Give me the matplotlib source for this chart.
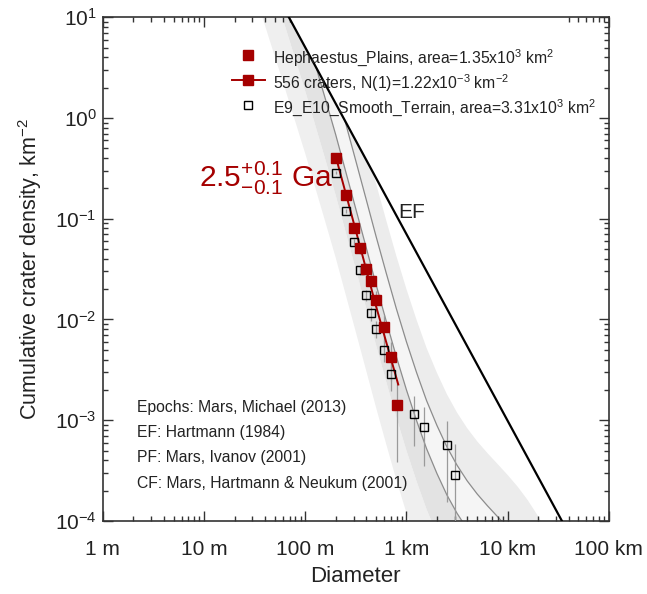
import numpy as np
import matplotlib
matplotlib.use("Agg")
import matplotlib.pyplot as plt
from matplotlib.lines import Line2D
from matplotlib.ticker import FixedLocator, FixedFormatter, LogLocator, NullFormatter

plt.rcParams['font.family'] = ['Liberation Sans', 'DejaVu Sans']
plt.rcParams['mathtext.fontset'] = 'custom'
plt.rcParams['mathtext.rm'] = 'Liberation Sans'
plt.rcParams['mathtext.it'] = 'Liberation Sans:italic'
plt.rcParams['mathtext.bf'] = 'Liberation Sans:bold'

RED = '#a50000'
TXT = '#222222'

# Hephaestus Plains cumulative counts (D in km, N in km^-2)
heph_d = [0.2, 0.25, 0.3, 0.35, 0.4, 0.45, 0.5, 0.6, 0.7, 0.8]
heph_n = [0.40, 0.170, 0.0807, 0.0511, 0.0314, 0.0242, 0.0156, 0.00847, 0.00424, 0.00141]
heph_area = 1.35e3

# E9_E10 smooth terrain
smooth_d = [0.2, 0.25, 0.3, 0.35, 0.4, 0.45, 0.5, 0.6, 0.7, 1.2, 1.5, 2.5, 3.0]
smooth_n = [0.285, 0.119, 0.0586, 0.0309, 0.0175, 0.0115, 0.00803, 0.00497, 0.00287,
            0.00114, 0.000857, 0.000571, 0.000286]
smooth_area = 3.31e3

# 2.5 Ga isochron fitted to the red data
fit_d = [0.2, 0.316, 0.5, 0.83]
fit_n = [0.416, 0.0762, 0.0136, 0.00226]

# equilibrium function (Hartmann 1984)
ef_d = [0.0689, 34.4]
ef_n = [10.0, 1e-4]

# production function shape, N(D) / N(1)
pf_d = [0.0316, 0.05, 0.0631, 0.1, 0.158, 0.2, 0.251, 0.316, 0.398, 0.5, 0.631, 0.794,
        1.0, 1.26, 1.58, 2.0, 2.51, 3.16, 3.98, 5.01, 6.31, 7.94, 10.0, 12.6, 15.8,
        20.0, 25.1, 31.6]
pf_rel = [145500, 34040, 16330, 3690, 773, 341, 147, 62.5, 26.4, 11.2, 4.82, 2.14,
          1.0, 0.494, 0.261, 0.148, 0.0906, 0.0596, 0.0417, 0.0308, 0.0236, 0.0184,
          0.0143, 0.0109, 0.00804, 0.00558, 0.00366, 0.00226]

# epoch boundaries as N(1) values, and the grey isochron lines
epoch_n1 = [1.2e-4, 5.0e-4, 2.0e-3, 6.0e-3, 2.0e-2]
epoch_shades = ['#efefef', '#e3e3e3', '#f5f5f5', '#ececec']
iso_n1 = [2.0e-3, 6.0e-3]

x_ticks = [1e-3, 1e-2, 1e-1, 1, 10, 100]
x_labels = ['1 m', '10 m', '100 m', '1 km', '10 km', '100 km']

legend_labels = [
    'Hephaestus_Plains, area=1.35x10$^{3}$ km$^{2}$',
    '556 craters, N(1)=1.22x10$^{-3}$ km$^{-2}$',
    'E9_E10_Smooth_Terrain, area=3.31x10$^{3}$ km$^{2}$',
]
notes = [
    'Epochs: Mars, Michael (2013)',
    'EF: Hartmann (1984)',
    'PF: Mars, Ivanov (2001)',
    'CF: Mars, Hartmann & Neukum (2001)',
]


def poisson_err(n, area):
    n = np.asarray(n)
    err = np.sqrt(n * area) / area
    lo = np.minimum(err, n * 0.9999)
    return [lo, err]


fig, ax = plt.subplots(figsize=(6.47, 5.94), dpi=100)
fig.subplots_adjust(left=0.159, right=0.941, bottom=0.123, top=0.971)
ax.set_xscale('log')
ax.set_yscale('log')
ax.set_xlim(1e-3, 1e2)
ax.set_ylim(1e-4, 1e1)

# epoch bands and isochrons
pf_d_arr = np.array(pf_d)
pf_rel_arr = np.array(pf_rel)
for lo_n1, hi_n1, shade in zip(epoch_n1[:-1], epoch_n1[1:], epoch_shades):
    ax.fill_between(pf_d_arr, lo_n1 * pf_rel_arr, hi_n1 * pf_rel_arr, color=shade, lw=0, zorder=1)
for n1 in iso_n1:
    ax.plot(pf_d_arr, n1 * pf_rel_arr, color='#8c8c8c', lw=0.9, zorder=1.5)

# nothing above saturation
ax.fill_between(ef_d, ef_n, 1e3, color='white', lw=0, zorder=2)
ax.plot(ef_d, ef_n, color='black', lw=1.6, zorder=3)
ax.text(1.13, 0.116, 'EF', fontsize=15, color=TXT, ha='center', va='center', zorder=3)

# data
ax.errorbar(smooth_d, smooth_n, yerr=poisson_err(smooth_n, smooth_area), fmt='none',
            ecolor='#9a9a9a', elinewidth=0.9, zorder=4)
ax.errorbar(heph_d, heph_n, yerr=poisson_err(heph_n, heph_area), fmt='none',
            ecolor='#9a9a9a', elinewidth=0.9, zorder=4)
ax.plot(fit_d, fit_n, color=RED, lw=1.4, zorder=5)
ax.plot(smooth_d, smooth_n, ls='none', marker='s', ms=5.5, mfc='none', mec='black', mew=1.0, zorder=6)
ax.plot(heph_d, heph_n, ls='none', marker='s', ms=7, color=RED, zorder=7)

ax.text(0.1875, 0.2056, '2.5$^{+0.1}_{-0.1}$ Ga', fontsize=21.5, color=RED,
        ha='right', va='baseline', zorder=8)

# legend rows, drawn by hand so that the spacing stays even
handles = [
    dict(ls='none', marker='s', ms=7, color=RED),
    dict(color=RED, lw=1.4, marker='s', ms=7),
    dict(ls='none', marker='s', ms=5.5, mfc='none', mec='black', mew=1.0),
]
for i, (style, label) in enumerate(zip(handles, legend_labels)):
    y = 0.9246 - i * 0.0496
    ax.add_line(Line2D([0.255, 0.2866, 0.320], [y, y, y], transform=ax.transAxes,
                       markevery=[1], zorder=8, **style))
    ax.text(0.336, y, label, transform=ax.transAxes, fontsize=11.3, color=TXT,
            ha='left', va='center_baseline', zorder=8)

for i, line in enumerate(notes):
    ax.text(0.067, 0.228 - i * 0.05, line, transform=ax.transAxes, fontsize=11.3,
            color=TXT, ha='left', va='center_baseline')

# axes styling
ax.xaxis.set_major_locator(FixedLocator(x_ticks))
ax.xaxis.set_major_formatter(FixedFormatter(x_labels))
ax.xaxis.set_minor_locator(LogLocator(base=10, subs=np.arange(2, 10), numticks=20))
ax.xaxis.set_minor_formatter(NullFormatter())
ax.yaxis.set_major_locator(LogLocator(base=10, numticks=20))
ax.yaxis.set_minor_locator(LogLocator(base=10, subs=np.arange(2, 10), numticks=20))
ax.yaxis.set_minor_formatter(NullFormatter())
ax.tick_params(which='both', direction='in', top=True, right=True, width=1.0, colors='#333333',
               labelcolor=TXT)
ax.tick_params(which='major', length=7.5)
ax.tick_params(which='minor', length=3.8)
ax.tick_params(axis='x', which='major', pad=14, labelsize=15)
ax.tick_params(axis='y', which='major', pad=4.5, labelsize=15)
for sp in ax.spines.values():
    sp.set_linewidth(1.2)
    sp.set_color('#333333')

ax.set_xlabel('Diameter', fontsize=16, color=TXT, labelpad=5)
ax.set_ylabel('Cumulative crater density, km$^{-2}$', fontsize=15.5, color=TXT, labelpad=8)

plt.savefig('out.png', dpi=100)
